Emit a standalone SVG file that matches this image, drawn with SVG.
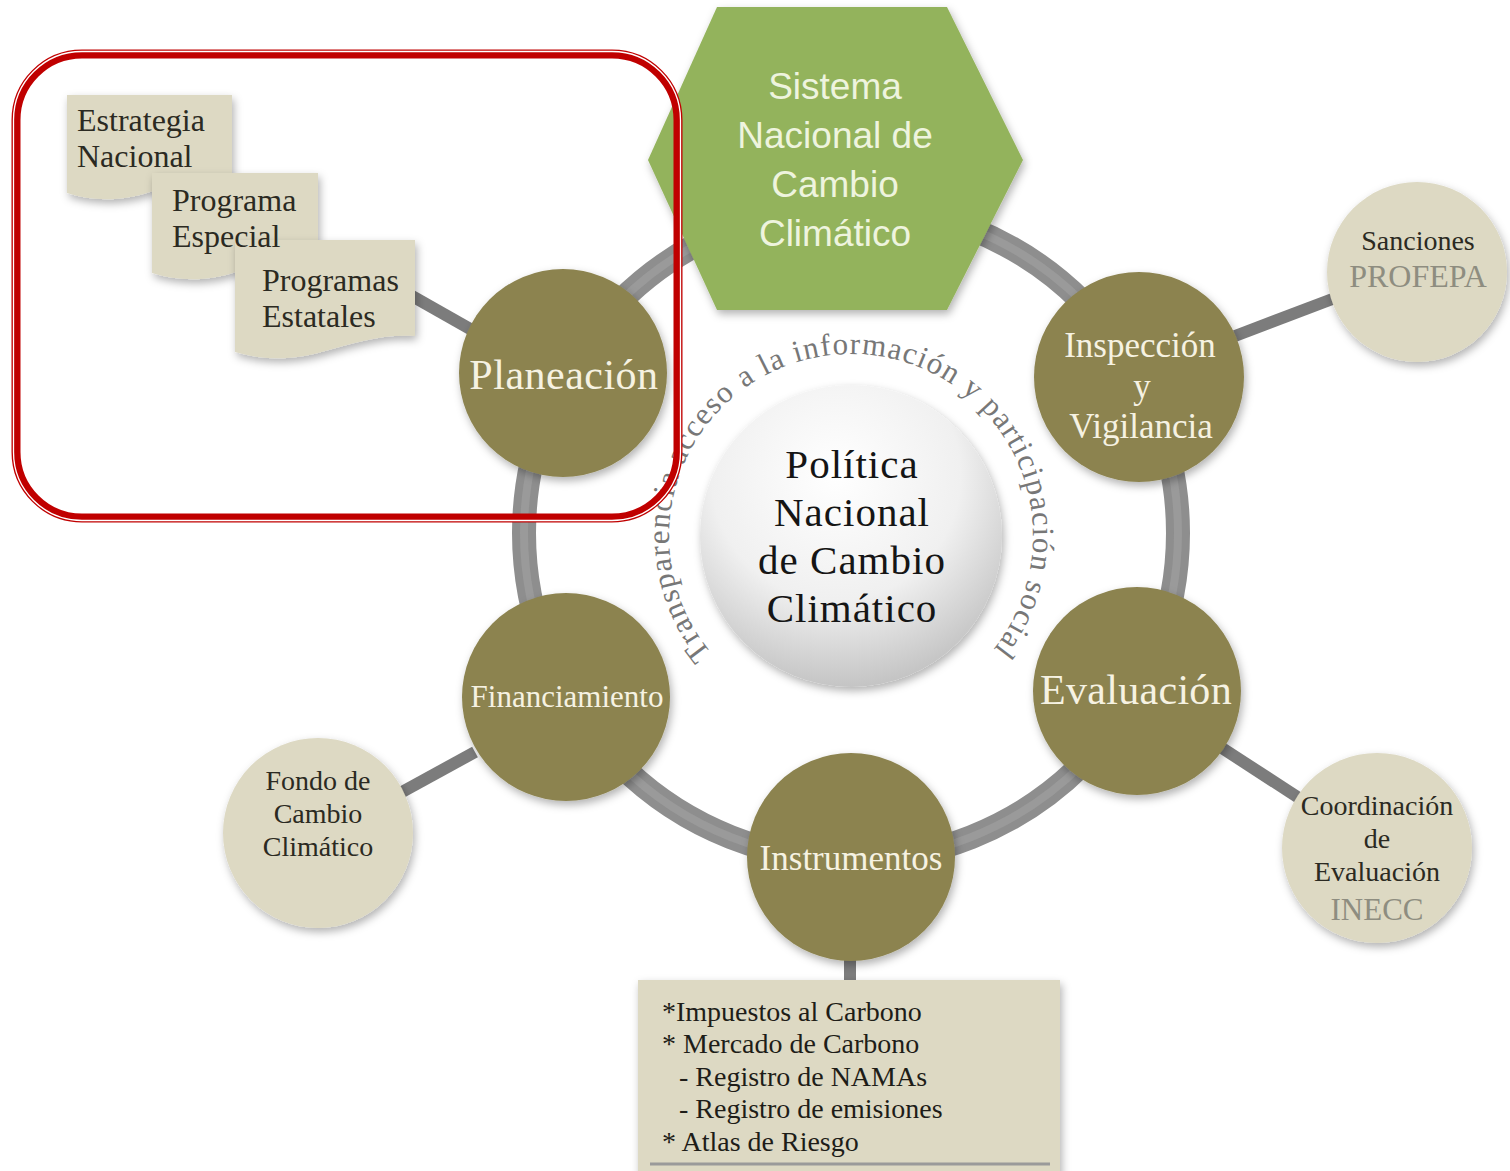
<svg xmlns="http://www.w3.org/2000/svg" width="1510" height="1171" viewBox="0 0 1510 1171">
<style>
.ser{font-family:"Liberation Serif","Times New Roman",serif}
.arct{font-family:"Liberation Serif","Times New Roman",serif;font-size:31px;fill:#777777;letter-spacing:1.2px}
.node{fill:#8c8350}
.sat{fill:#ddd9c3}
.ntxt{font-family:"Liberation Serif","Times New Roman",serif;fill:#f6f2e2;text-anchor:middle}
.stxt{font-family:"Liberation Serif","Times New Roman",serif;fill:#2b2a22;text-anchor:middle;font-size:28px}
.gtxt{font-family:"Liberation Serif","Times New Roman",serif;fill:#8e8d80;text-anchor:middle}
.dtxt{font-family:"Liberation Serif","Times New Roman",serif;fill:#2b2a22;font-size:32px}
.btxt{font-family:"Liberation Serif","Times New Roman",serif;fill:#1e1d18;font-size:28px}
.spoke{stroke:#7c7c7c;stroke-width:12;fill:none}
.htxt{font-family:"Liberation Sans",Arial,sans-serif;fill:#eef4de;text-anchor:middle;font-size:37px}
.ctxt{font-family:"Liberation Serif","Times New Roman",serif;fill:#151515;text-anchor:middle;font-size:41px;letter-spacing:1px}
</style>
<defs>
<filter id="sh" x="-20%" y="-20%" width="140%" height="150%">
<feDropShadow dx="2" dy="4" stdDeviation="4" flood-color="#000" flood-opacity="0.3"/>
</filter>
<radialGradient id="cg" cx="0.45" cy="0.3" r="0.75">
<stop offset="0" stop-color="#ffffff"/>
<stop offset="0.55" stop-color="#f0f0f0"/>
<stop offset="1" stop-color="#bdbdbd"/>
</radialGradient>
<path id="arc" d="M711.6,653.0 A182,182 0 1 1 984.1,660.1"/>
</defs>
<rect width="1510" height="1171" fill="#ffffff"/>

<g id="connectors">
<circle cx="851" cy="533" r="327" fill="none" stroke="#8e8e8e" stroke-width="24"/>
<circle cx="851" cy="533" r="327" fill="none" stroke="#a2a2a2" stroke-width="8" opacity="0.6"/>
<line class="spoke" x1="412" y1="296" x2="472" y2="330"/>
<line class="spoke" x1="1235" y1="336" x2="1335" y2="298"/>
<line class="spoke" x1="1222" y1="748" x2="1302" y2="800"/>
<line class="spoke" x1="475" y1="752" x2="402" y2="792"/>
<line class="spoke" x1="850" y1="950" x2="850" y2="984"/>
</g>

<g id="arc-text">
<text class="arct"><textPath href="#arc" startOffset="0">Transparencia acceso</textPath></text>
<text class="arct"><textPath href="#arc" startOffset="299">a la información y</textPath></text>
<text class="arct"><textPath href="#arc" startOffset="556">participación social</textPath></text>
</g>

<g id="sistema">
<polygon points="717,7 947,7 1023,160 947,310 717,310 648,160" fill="#93b35b" filter="url(#sh)"/>
<text class="htxt" x="835" y="99">Sistema</text>
<text class="htxt" x="835" y="148">Nacional de</text>
<text class="htxt" x="835" y="197">Cambio</text>
<text class="htxt" x="835" y="246">Climático</text>
</g>

<g id="politica">
<circle cx="851" cy="536" r="151" fill="url(#cg)" filter="url(#sh)"/>
<text class="ctxt" x="852" y="478">Política</text>
<text class="ctxt" x="852" y="526">Nacional</text>
<text class="ctxt" x="852" y="574">de Cambio</text>
<text class="ctxt" x="852" y="622">Climático</text>
</g>

<g id="planeacion">
<circle class="node" cx="563" cy="373" r="104" filter="url(#sh)"/>
<text class="ntxt" x="564" y="389" font-size="42" letter-spacing="0.5">Planeación</text>
</g>

<g id="inspeccion">
<circle class="node" cx="1139" cy="377" r="105" filter="url(#sh)"/>
<text class="ntxt" x="1140" y="357" font-size="35">Inspección</text>
<text class="ntxt" x="1142" y="398" font-size="35">y</text>
<text class="ntxt" x="1141" y="438" font-size="35">Vigilancia</text>
</g>

<g id="evaluacion">
<circle class="node" cx="1137" cy="691" r="104" filter="url(#sh)"/>
<text class="ntxt" x="1136" y="704" font-size="42" letter-spacing="0.3">Evaluación</text>
</g>

<g id="instrumentos">
<circle class="node" cx="851" cy="857" r="104" filter="url(#sh)"/>
<text class="ntxt" x="851" y="870" font-size="35">Instrumentos</text>
</g>

<g id="financiamiento">
<circle class="node" cx="566" cy="697" r="104" filter="url(#sh)"/>
<text class="ntxt" x="567" y="707" font-size="31">Financiamiento</text>
</g>

<g id="sanciones">
<circle class="sat" cx="1417" cy="272" r="90" filter="url(#sh)"/>
<text class="stxt" x="1418" y="250">Sanciones</text>
<text class="gtxt" x="1418" y="287" font-size="32">PROFEPA</text>
</g>

<g id="coordinacion">
<circle class="sat" cx="1377" cy="848" r="95" filter="url(#sh)"/>
<text class="stxt" x="1377" y="815">Coordinación</text>
<text class="stxt" x="1377" y="848">de</text>
<text class="stxt" x="1377" y="881">Evaluación</text>
<text class="gtxt" x="1377" y="920" font-size="31">INECC</text>
</g>

<g id="fondo">
<circle class="sat" cx="318" cy="833" r="95" filter="url(#sh)"/>
<text class="stxt" x="318" y="790">Fondo de</text>
<text class="stxt" x="318" y="823">Cambio</text>
<text class="stxt" x="318" y="856">Climático</text>
</g>

<g id="docs">
<path class="sat" filter="url(#sh)" d="M67,95 H232 V178 C200,176 175,184 150,192 C120,202 92,201 67,193 Z"/>
<path class="sat" filter="url(#sh)" d="M152,173 H318 V258 C286,256 262,264 236,272 C206,282 178,281 152,273 Z"/>
<path class="sat" filter="url(#sh)" d="M235,240 H415 V336 C380,334 355,343 325,351 C292,361 262,360 235,352 Z"/>
<text class="dtxt" x="77" y="131">Estrategia</text>
<text class="dtxt" x="77" y="167">Nacional</text>
<text class="dtxt" x="172" y="211">Programa</text>
<text class="dtxt" x="172" y="247">Especial</text>
<text class="dtxt" x="262" y="291">Programas</text>
<text class="dtxt" x="262" y="327">Estatales</text>
</g>

<g id="instrumentos-box">
<rect class="sat" x="638" y="980" width="422" height="200" filter="url(#sh)"/>
<line x1="650" y1="1164" x2="1050" y2="1164" stroke="#9a9a9a" stroke-width="3"/>
<text class="btxt" x="662" y="1021">*Impuestos al Carbono</text>
<text class="btxt" x="662" y="1053">* Mercado de Carbono</text>
<text class="btxt" x="679" y="1086">- Registro de NAMAs</text>
<text class="btxt" x="679" y="1118">- Registro de emisiones</text>
<text class="btxt" x="662" y="1151">* Atlas de Riesgo</text>
</g>

<g id="highlight">
<rect x="16" y="54" width="662" height="464" rx="66" fill="none" stroke="#c00000" stroke-width="9"/>
<rect x="13.5" y="51.5" width="667" height="469" rx="68.5" fill="none" stroke="#ffffff" stroke-width="1.3"/>
</g>
</svg>
